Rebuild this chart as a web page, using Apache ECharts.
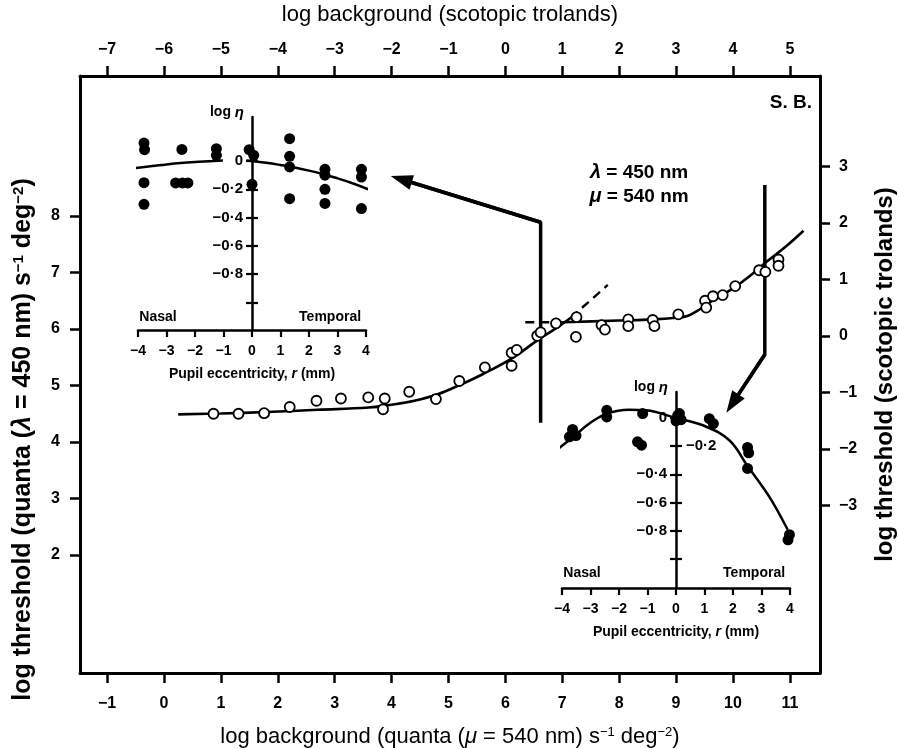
<!DOCTYPE html>
<html><head><meta charset="utf-8">
<script src="https://cdn.jsdelivr.net/npm/echarts@6/dist/echarts.min.js"></script>
<style>html,body{margin:0;padding:0;background:#fff}#c{width:899px;height:748px}</style>
</head><body><div id="c"></div>
<script>
// ---------------- data ----------------
const bottomTicks = [-1,0,1,2,3,4,5,6,7,8,9,10,11];
const topTicks = [-7,-6,-5,-4,-3,-2,-1,0,1,2,3,4,5];
const leftTicks = [2,3,4,5,6,7,8];
const rightTicks = [-3,-2,-1,0,1,2,3];
const eccTicks = [-4,-3,-2,-1,0,1,2,3,4];
const etaTicks = [0,-0.2,-0.4,-0.6,-0.8,-1.0];
const etaLabels1 = [0,-0.2,-0.4,-0.6,-0.8];
const etaLabels2Left = [0,-0.4,-0.6,-0.8];
const etaLabels2Right = [-0.2];

// main threshold-vs-intensity data (open circles)
const openX = [0.87,1.31,1.76,2.21,2.68,3.11,3.59,3.88,3.85,4.31,4.78,5.19,5.64,6.11,6.20,6.11,6.56,6.62,6.89,7.25,7.24,7.69,7.75,8.16,8.16,8.59,8.62,9.04,9.51,9.53,9.65,9.82,10.04,10.46,10.57,10.80,10.80];
const openY = [4.50,4.50,4.51,4.62,4.73,4.77,4.79,4.77,4.58,4.89,4.76,5.08,5.32,5.58,5.63,5.35,5.88,5.94,6.10,6.21,5.86,6.07,5.99,6.17,6.05,6.16,6.05,6.26,6.50,6.38,6.58,6.60,6.76,7.04,7.01,7.23,7.12];

// fitted curves
const riseX = [0.25,1.0,1.8,2.7,3.6,4.0,4.4,4.8,5.2,5.6,6.1,6.55,6.9,7.15];
const riseY = [4.49,4.505,4.53,4.57,4.61,4.66,4.73,4.84,5.01,5.20,5.47,5.79,6.02,6.20];
const plateauX = [7.0,8.0,8.6,9.0,9.2,9.42,9.65,10.0,10.36,10.59,10.94,11.24];
const plateauY = [6.12,6.15,6.17,6.20,6.23,6.35,6.51,6.72,6.99,7.19,7.47,7.74];
const dashRiseX = [7.15,7.8];
const dashRiseY = [6.20,6.78];
const dashFlatX = [6.35,7.0];
const dashFlatY = [6.12,6.12];

// arrows
const arrow1X = [6.62,6.62,4.17];
const arrow1Y = [4.34,7.89,8.65];
const arrow2X = [10.56,10.56,9.99];
const arrow2Y = [8.55,5.55,4.68];

// inset 1 (upper left)
const in1DotX = [-3.79,-3.77,-3.79,-3.79,-2.46,-2.68,-2.44,-2.25,-1.25,-1.25,-0.10,0.06,0.0,1.32,1.32,1.32,1.32,2.56,2.56,2.56,2.56,3.84,3.84,3.84];
const in1DotY = [0.127,0.08,-0.153,-0.306,0.082,-0.155,-0.155,-0.155,0.087,0.04,0.08,0.04,-0.165,0.158,0.033,-0.042,-0.266,-0.059,-0.10,-0.20,-0.30,-0.059,-0.113,-0.336];
const in1LeftX = [-4.12,-3.5,-3,-2.5,-2,-1.5,-1.02];
const in1LeftY = [-0.05,-0.036,-0.024,-0.014,-0.007,-0.002,0.003];
const in1RightX = [-0.2,0,0.5,1,1.5,2,2.5,3,3.5,4.15];
const in1RightY = [0.004,0.0,-0.012,-0.028,-0.046,-0.068,-0.093,-0.122,-0.155,-0.205];

// inset 2 (lower right)
const in2DotX = [-3.74,-3.63,-3.51,-2.43,-2.43,-1.17,-1.35,-1.21,0.06,0.18,0.0,0.12,1.17,1.31,2.51,2.55,2.51,3.98,4.12,3.93];
const in2DotY = [-0.134,-0.082,-0.125,0.054,0.007,0.031,-0.169,-0.193,0.019,-0.012,-0.021,0.031,-0.005,-0.04,-0.209,-0.247,-0.358,-0.828,-0.816,-0.864];
const in2CurveX = [-4.12,-3.63,-3.04,-2.43,-1.64,-1.05,0,0.94,1.87,2.51,3.27,3.92];
const in2CurveY = [-0.216,-0.139,-0.04,0.031,0.059,0.054,0.0,-0.052,-0.158,-0.341,-0.558,-0.793];

// text annotations
const mainNotes = [
  {name:'S. B.', value:[11.02,10.0]},
  {name:'{gi|λ} = 450 nm', value:[8.35,8.77]},
  {name:'{gi|μ} = 540 nm', value:[8.35,8.34]}
];
const insetNotes = [
  {name:'Nasal', value:[-3.3,-1.10]},
  {name:'Temporal', value:[2.74,-1.10]}
];

// ---------------- chart ----------------
const FONT = '"Liberation Sans", Arial, Helvetica, sans-serif';
const zip = (xs, ys) => xs.map((x, i) => [x, ys[i]]);
const minus = v => String(v).replace('-', '\u2212');
const etaFmt = v => (Math.abs(v) < 1e-9 ? '0' : '\u2212' + Math.abs(v).toFixed(1).replace('.', '\u00b7'));
const black = '#000';
const INSET_W = 228;          // inset grid width (x from -4 to 4)
const ZERO_OFF = -INSET_W / 2; // shifts the inset y axes to x = 0

const supRich = {
  i: {fontStyle:'italic'},
  s: {fontSize:13, verticalAlign:'top', lineHeight:14}
};

function mainX(pos, min, max, ticks, name, gap, rich){
  return {
    type:'value', gridIndex:0, position:pos, min:min, max:max,
    axisLine:{onZero:false, lineStyle:{color:black, width:3}},
    axisTick:{show:true, length:10, customValues:ticks, lineStyle:{color:black, width:2.5}},
    axisLabel:{customValues:ticks, formatter:minus, margin: pos==='bottom'?23:18, fontSize:16, fontWeight:'bold', color:black, fontFamily:FONT},
    splitLine:{show:false},
    name:name, nameLocation:'middle', nameGap:gap,
    nameTextStyle:{fontSize:22, color:black, fontFamily:FONT, rich:rich}
  };
}
function insetX(g){
  return {
    type:'value', gridIndex:g, position:'bottom', min:-4, max:4,
    axisLine:{onZero:false, lineStyle:{color:black, width:2.5}},
    axisTick:{show:true, length:7, customValues:eccTicks, lineStyle:{color:black, width:2.2}},
    axisLabel:{customValues:eccTicks, formatter:minus, margin:14, fontSize:14, fontWeight:'bold', color:black, fontFamily:FONT},
    splitLine:{show:false},
    name:'Pupil eccentricity, {i|r} (mm)', nameLocation:'middle', nameGap:37,
    nameTextStyle:{fontSize:14, fontWeight:'bold', color:black, fontFamily:FONT, rich:{i:{fontStyle:'italic', fontWeight:'bold', fontSize:14}}}
  };
}
function insetYOuter(g, min, max, labels){
  return {
    type:'value', gridIndex:g, position:'left', offset:ZERO_OFF, min:min, max:max,
    axisLine:{onZero:false, lineStyle:{color:black, width:2.5}},
    axisTick:{show:true, length:6, customValues:etaTicks, lineStyle:{color:black, width:2.2}},
    axisLabel:{customValues:labels, formatter:etaFmt, margin:9, fontSize:15, fontWeight:'bold', color:black, fontFamily:FONT},
    splitLine:{show:false},
    name:'log {i|η}', nameLocation:'end', nameGap:-3,
    nameTextStyle:{fontSize:14, fontWeight:'bold', color:black, fontFamily:FONT, align:'right', verticalAlign:'bottom', padding:[0,8,0,0],
      rich:{i:{fontStyle:'italic', fontWeight:'bold', fontSize:15}}}
  };
}
function insetYInner(g, min, max, labels){
  return {
    type:'value', gridIndex:g, position:'right', offset:ZERO_OFF, min:min, max:max,
    axisLine:{show:false, onZero:false},
    axisTick:{show:true, length:6, customValues:etaTicks, lineStyle:{color:black, width:2.2}},
    axisLabel:{show: labels.length > 0, customValues:labels.length?labels:[0], formatter:etaFmt, margin:10, fontSize:15, fontWeight:'bold', color:black, fontFamily:FONT},
    splitLine:{show:false}
  };
}
const noteLabel = (size, rich) => ({show:true, position:'inside', formatter:p=>p.name, fontSize:size, fontWeight:'bold',
  color:black, opacity:1, textBorderWidth:0, fontFamily:FONT, rich:rich});

const option = {
  animation:false,
  backgroundColor:'#fff',
  textStyle:{fontFamily:FONT},
  grid:[
    {left:80, right:79, top:76, bottom:75, outerBoundsMode:'none', containLabel:false},
    {left:138, width:INSET_W, top:117, height:213, outerBoundsMode:'none', containLabel:false},
    {left:562, width:INSET_W, top:392, height:196, outerBoundsMode:'none', containLabel:false}
  ],
  xAxis:[
    mainX('bottom', -1.476, 11.53, bottomTicks, 'log background (quanta ({i|μ} = 540 nm) s{s|\u22121} deg{s|\u22122})', 53, supRich),
    mainX('top', -7.476, 5.53, topTicks, 'log background (scotopic trolands)', 50, supRich),
    insetX(1),
    insetX(2)
  ],
  yAxis:[
    {
      type:'value', gridIndex:0, position:'left', min:-0.088, max:10.478,
      axisLine:{onZero:false, lineStyle:{color:black, width:3}},
      axisTick:{show:true, length:10, customValues:leftTicks, lineStyle:{color:black, width:2.5}},
      axisLabel:{customValues:leftTicks, formatter:minus, margin:20, fontSize:16, fontWeight:'bold', color:black, fontFamily:FONT},
      splitLine:{show:false},
      name:'log threshold (quanta ({i|λ} = 450 nm) s{s|\u22121} deg{s|\u22122})', nameLocation:'middle', nameGap:44, nameRotate:90,
      nameTextStyle:{fontSize:25, fontWeight:'bold', color:black, fontFamily:FONT, padding:[0,130,0,0],
        rich:{i:{fontStyle:'italic', fontWeight:'bold', fontSize:25}, s:{fontSize:15, fontWeight:'bold', verticalAlign:'top', lineHeight:15}}}
    },
    {
      type:'value', gridIndex:0, position:'right', min:-5.968, max:4.598,
      axisLine:{onZero:false, lineStyle:{color:black, width:3}},
      axisTick:{show:true, length:10, customValues:rightTicks, lineStyle:{color:black, width:2.5}},
      axisLabel:{customValues:rightTicks, formatter:minus, margin:19, fontSize:16, fontWeight:'bold', color:black, fontFamily:FONT},
      splitLine:{show:false},
      name:'log threshold (scotopic trolands)', nameLocation:'middle', nameGap:53, nameRotate:90,
      nameTextStyle:{fontSize:24, fontWeight:'bold', color:black, fontFamily:FONT}
    },
    insetYOuter(1, -1.194, 0.311, etaLabels1),
    insetYInner(1, -1.194, 0.311, []),
    insetYOuter(2, -1.206, 0.184, etaLabels2Left),
    insetYInner(2, -1.206, 0.184, etaLabels2Right)
  ],
  series:[
    {type:'line', xAxisIndex:0, yAxisIndex:0, data:zip(riseX, riseY), smooth:0.4, showSymbol:false, lineStyle:{color:black, width:2.6}, z:3},
    {type:'line', xAxisIndex:0, yAxisIndex:0, data:zip(plateauX, plateauY), smooth:0.4, showSymbol:false, lineStyle:{color:black, width:2.6}, z:3},
    {type:'line', xAxisIndex:0, yAxisIndex:0, data:zip(dashRiseX, dashRiseY), showSymbol:false, lineStyle:{color:black, width:2.4, type:[9,6]}, z:3},
    {type:'line', xAxisIndex:0, yAxisIndex:0, data:zip(dashFlatX, dashFlatY), showSymbol:false, lineStyle:{color:black, width:2.4, type:[9,6]}, z:3},
    {type:'scatter', xAxisIndex:0, yAxisIndex:0, data:zip(openX, openY), symbol:'circle', symbolSize:10,
      itemStyle:{color:'#fff', borderColor:black, borderWidth:1.8, opacity:1}, z:5},
    {type:'line', xAxisIndex:0, yAxisIndex:0, data:zip(arrow1X, arrow1Y), showSymbol:false, lineStyle:{color:black, width:3.5}, z:4,
      markLine:{silent:true, symbol:['none','triangle'], symbolSize:[15,22], label:{show:false},
        lineStyle:{color:black, width:3.5, type:'solid', opacity:1},
        data:[[{coord:[arrow1X[1], arrow1Y[1]]},{coord:[arrow1X[2], arrow1Y[2]]}]]}},
    {type:'line', xAxisIndex:0, yAxisIndex:0, data:zip(arrow2X, arrow2Y), showSymbol:false, lineStyle:{color:black, width:3.5}, z:4,
      markLine:{silent:true, symbol:['none','triangle'], symbolSize:[15,22], label:{show:false},
        lineStyle:{color:black, width:3.5, type:'solid', opacity:1},
        data:[[{coord:[arrow2X[1], arrow2Y[1]]},{coord:[arrow2X[2], arrow2Y[2]]}]]}},
    {type:'scatter', xAxisIndex:0, yAxisIndex:0, data:mainNotes, symbolSize:0, itemStyle:{color:'transparent', opacity:1},
      label:noteLabel(19, {gi:{fontStyle:'italic', fontWeight:'bold', fontSize:20, fontFamily:FONT, color:black}})},

    // inset 1
    {type:'line', xAxisIndex:2, yAxisIndex:2, data:zip(in1LeftX, in1LeftY), smooth:0.4, showSymbol:false, lineStyle:{color:black, width:2.5}},
    {type:'line', xAxisIndex:2, yAxisIndex:2, data:zip(in1RightX, in1RightY), smooth:0.4, showSymbol:false, lineStyle:{color:black, width:2.5}},
    {type:'scatter', xAxisIndex:2, yAxisIndex:2, data:zip(in1DotX, in1DotY), symbol:'circle', symbolSize:11, itemStyle:{color:black, opacity:1}},
    {type:'scatter', xAxisIndex:2, yAxisIndex:2, data:insetNotes, symbolSize:0, itemStyle:{color:'transparent', opacity:1}, label:noteLabel(14)},

    // inset 2
    {type:'line', xAxisIndex:3, yAxisIndex:4, data:zip(in2CurveX, in2CurveY), smooth:0.4, showSymbol:false, lineStyle:{color:black, width:2.5}},
    {type:'scatter', xAxisIndex:3, yAxisIndex:4, data:zip(in2DotX, in2DotY), symbol:'circle', symbolSize:11, itemStyle:{color:black, opacity:1}},
    {type:'scatter', xAxisIndex:3, yAxisIndex:4, data:insetNotes, symbolSize:0, itemStyle:{color:'transparent', opacity:1}, label:noteLabel(14)}
  ]
};

const chart = echarts.init(document.getElementById('c'), null, {renderer:'canvas'});
chart.setOption(option);
</script>
</body></html>
